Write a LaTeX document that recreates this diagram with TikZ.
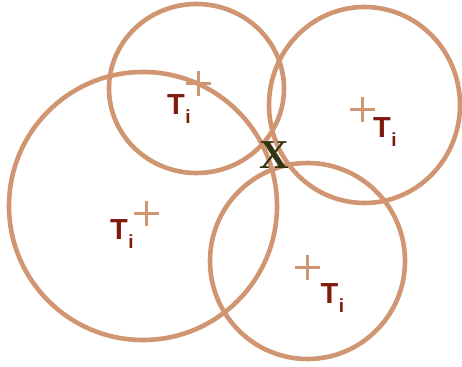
\documentclass[tikz,border=0pt]{standalone}
\usepackage{fontspec}
\setmainfont{Liberation Serif}
\newfontfamily\labelfont{Liberation Sans}
\definecolor{ring}{RGB}{208,150,113}
\definecolor{tred}{RGB}{128,26,12}
\definecolor{xcol}{RGB}{52,52,16}
\tikzset{
  ringline/.style={draw=ring, line width=4.6pt},
  plusmark/.style={draw=ring, line width=3pt},
  tlabel/.style={text=tred, inner sep=0pt, anchor=base west, font=\labelfont\bfseries\fontsize{29}{29}\selectfont},
}
\newcommand{\Tlab}{T\kern0.5pt\raisebox{-9pt}{\fontsize{19}{19}\selectfont i}}
\begin{document}
\begin{tikzpicture}[x=1pt,y=-1pt]
\useasboundingbox (0,0) rectangle (462,366);
\coordinate (cA) at (143,206);
\coordinate (cB) at (196.5,88.5);
\coordinate (cC) at (364.5,105);
\coordinate (cD) at (307.5,261);
\draw[ringline] (cA) circle[radius=134];
\draw[ringline] (cB) ellipse[x radius=87.5, y radius=84.5];
\draw[ringline] (cC) ellipse[x radius=95.5, y radius=98];
\draw[ringline] (cD) ellipse[x radius=97.5, y radius=98];
% plus markers
\foreach \p/\q in {198/84, 146/213, 362/110, 307/267}{
  \draw[plusmark] (\p-12.5,\q) -- (\p+12.5,\q);
  \draw[plusmark] (\p,\q-12.5) -- (\p,\q+12.5);
}
\node[tlabel] (tB) at (167,114.5) {\Tlab};
\node[tlabel] (tA) at (110,239) {\Tlab};
\node[tlabel] (tC) at (373,138) {\Tlab};
\node[tlabel] (tD) at (320.5,303) {\Tlab};
\node[text=xcol, inner sep=0pt, font=\bfseries\fontsize{41}{41}\selectfont] (x) at (274,155) {X};
\end{tikzpicture}
\end{document}
